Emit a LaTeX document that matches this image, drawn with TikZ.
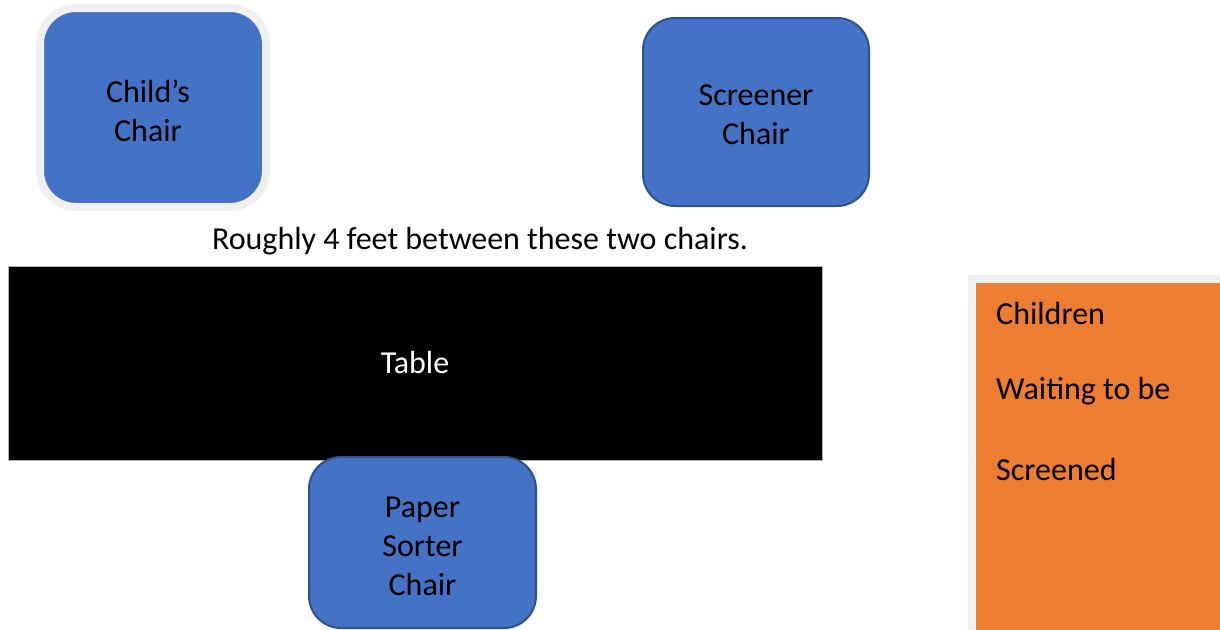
\documentclass[tikz,border=0pt]{standalone}
\usepackage{fontspec}
\setmainfont{Carlito}
\definecolor{chairblue}{HTML}{4472C4}
\definecolor{chairedge}{HTML}{2F528F}
\definecolor{waitorange}{HTML}{ED7D31}
\definecolor{shade}{HTML}{F0F0F0}
\tikzset{
  lbl/.style={inner sep=0pt, text=black, font=\fontsize{32}{38.7}\selectfont},
  chair/.style={fill=chairblue, draw=chairedge, line width=2pt, rounded corners=32pt, inner sep=0pt},
  chairtext/.style={lbl, align=center, yshift=-3pt}
}
\begin{document}
\begin{tikzpicture}[x=1pt,y=-1pt]
\useasboundingbox (0,0) rectangle (1220,629);
\clip (0,0) rectangle (1220,629);
% child's chair with light shaded border
\node[chair, draw=shade, line width=8pt, minimum width=226pt, minimum height=199pt, rounded corners=36pt,
  label={[chairtext, xshift=-5pt]center:Child’s\\Chair}] (child) at (153,107.5) {};
\node[chair, minimum width=226pt, minimum height=188pt,
  label={[chairtext]center:Screener\\Chair}] (screener) at (756,112) {};
\node[lbl] (note) at (480,241) {Roughly 4 feet between these two chairs.};
\node[fill=black, draw=gray!60, line width=0.6pt, minimum width=814pt, minimum height=194pt,
  inner sep=0pt, text=white, font=\fontsize{32}{38.7}\selectfont] (table) at (415,363) {Table};
\node[chair, minimum width=227pt, minimum height=171pt,
  label={[chairtext, yshift=-1pt]center:Paper\\Sorter\\Chair}] (sorter) at (422.5,542.5) {};
\node[fill=waitorange, draw=shade, line width=8pt, minimum width=256pt, minimum height=358pt,
  inner sep=0pt, anchor=north west] (wait) at (968,275) {};
\node[lbl, anchor=west] (waittext) at (996,313) {Children};
\node[lbl, anchor=west] (waittext2) at (996,391) {Waiting to be};
\node[lbl, anchor=west] (waittext3) at (996,469) {Screened};
\end{tikzpicture}
\end{document}
